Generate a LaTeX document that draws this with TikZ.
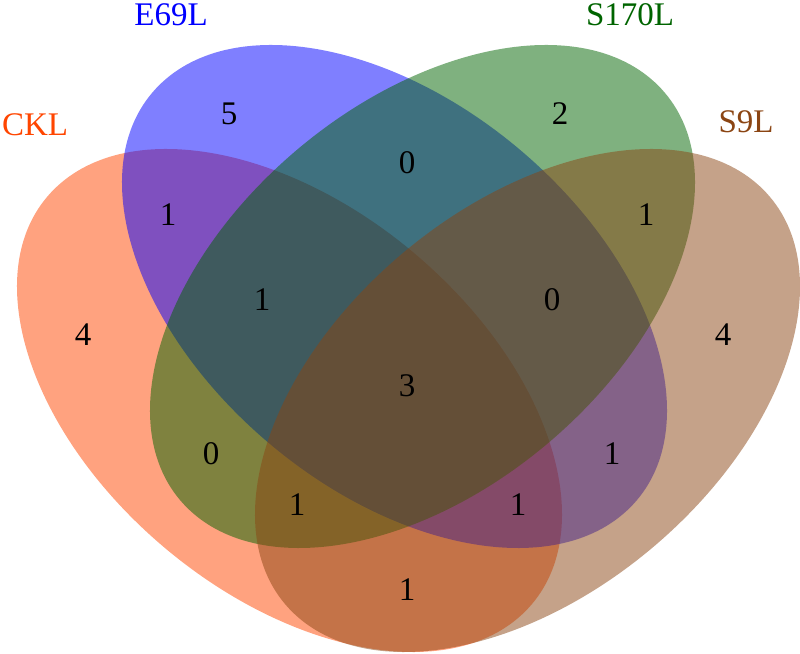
\documentclass[tikz,border=0pt]{standalone}
\usepackage{fontspec}
\setmainfont{Liberation Serif}
\definecolor{cklc}{RGB}{255,69,0}
\definecolor{e69c}{RGB}{0,0,255}
\definecolor{s170c}{RGB}{0,100,0}
\definecolor{s9c}{RGB}{139,69,19}
\begin{document}
\begin{tikzpicture}[x=1pt,y=1pt,
  setshape/.style={fill=#1, fill opacity=0.5, draw=none},
  setlabel/.style={text=#1, inner sep=0pt, font=\fontsize{33}{40}\selectfont},
  count/.style={inner sep=0pt, font=\fontsize{33}{40}\selectfont}]
\useasboundingbox (0,0) rectangle (800,653);
% ellipses (drawn in order CKL, E69L, S170L, S9L)
\path[setshape=cklc, shift={(289.5,252.5)}, xscale=272.5, yscale=251.5, rotate=-45]
  (0,0) ellipse [x radius=1.205, y radius=0.740];
\path[setshape=e69c, shift={(394.5,356.5)}, xscale=272.5, yscale=251.5, rotate=-45]
  (0,0) ellipse [x radius=1.205, y radius=0.740];
\path[setshape=s170c, shift={(422.5,356.5)}, xscale=272.5, yscale=251.5, rotate=45]
  (0,0) ellipse [x radius=1.205, y radius=0.740];
\path[setshape=s9c, shift={(527.5,252.5)}, xscale=272.5, yscale=251.5, rotate=45]
  (0,0) ellipse [x radius=1.205, y radius=0.740];
% set labels
\node[setlabel=cklc] (lckl) at (35,528) {CKL};
\node[setlabel=e69c] (le69) at (171,638) {E69L};
\node[setlabel=s170c] (ls170) at (630,638) {S170L};
\node[setlabel=s9c] (ls9) at (746,531) {S9L};
% counts
\node[count] (n5) at (229,539) {5};
\node[count] (n2) at (560,539) {2};
\node[count] (n0a) at (407,490) {0};
\node[count] (n1a) at (168,438) {1};
\node[count] (n1b) at (646,438) {1};
\node[count] (n1c) at (262,353) {1};
\node[count] (n0b) at (552,353) {0};
\node[count] (n4a) at (83,318) {4};
\node[count] (n4b) at (723,318) {4};
\node[count] (n3) at (407,267) {3};
\node[count] (n0c) at (211,199) {0};
\node[count] (n1d) at (612,199) {1};
\node[count] (n1e) at (297,148) {1};
\node[count] (n1f) at (518,148) {1};
\node[count] (n1g) at (407,63) {1};
\end{tikzpicture}
\end{document}
